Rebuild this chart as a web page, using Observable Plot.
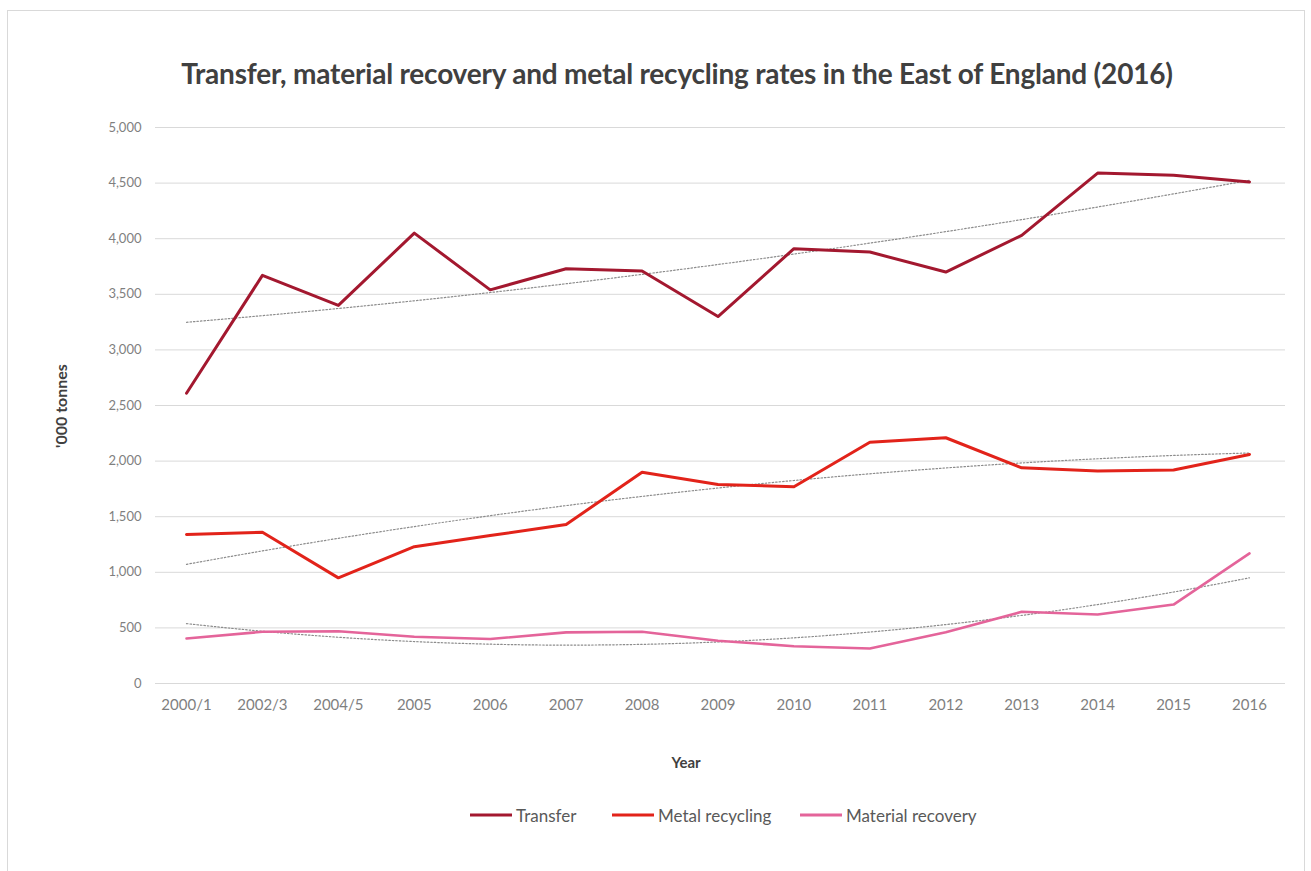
<!DOCTYPE html>
<html>
<head>
<meta charset="utf-8">
<script src="https://cdn.jsdelivr.net/npm/d3@7"></script>
<script src="https://cdn.jsdelivr.net/npm/@observablehq/plot@0.6"></script>
<style>
  html, body { margin: 0; padding: 0; background: #fff; }
  #wrap { position: relative; width: 1311px; height: 871px; font-family: Lato, "Open Sans", sans-serif; }
  #frame { position: absolute; left: 7px; top: 10px; width: 1298px; height: 870px; border: 1px solid #d9d9d9; box-sizing: border-box; }
  #title { position: absolute; left: 0; width: 1354px; top: 73px; transform: translateY(-50%); text-align: center; font-weight: bold; font-size: 28px; color: #404040; letter-spacing: -0.2px; }
  #ylabel { position: absolute; left: 60px; top: 406px; transform: translate(-50%, -50%) rotate(-90deg); font-weight: bold; font-size: 16px; color: #404040; white-space: nowrap; }
  #xlabel { position: absolute; left: 686px; top: 762px; transform: translate(-50%, -50%); font-weight: bold; font-size: 15px; color: #404040; }
  .item { position: absolute; top: 815px; transform: translateY(-50%); display: flex; align-items: center; font-size: 17px; color: #595959; white-space: nowrap; }
  .sw { display: inline-block; width: 42px; height: 3px; margin-right: 4px; }
  #chart { position: absolute; left: 0; top: 0; }
</style>
</head>
<body>
<div id="wrap">
  <div id="frame"></div>
  <div id="chart"></div>
  <div id="title">Transfer, material recovery and metal recycling rates in the East of England (2016)</div>
  <div id="ylabel">'000 tonnes</div>
  <div id="xlabel">Year</div>
  <div id="legend"></div>
</div>
<script>
const years = ["2000/1","2002/3","2004/5","2005","2006","2007","2008","2009","2010","2011","2012","2013","2014","2015","2016"];
const transfer = [2610, 3670, 3400, 4050, 3540, 3730, 3710, 3300, 3910, 3880, 3700, 4030, 4590, 4570, 4510];
const metalRecycling = [1340, 1360, 950, 1230, 1330, 1430, 1900, 1790, 1770, 2170, 2210, 1940, 1910, 1920, 2060];
const materialRecovery = [405, 465, 470, 420, 400, 460, 465, 385, 335, 315, 460, 645, 620, 710, 1170];
const seriesNames = ["Transfer", "Metal recycling", "Material recovery"];
const seriesColors = ["#a3182f", "#e2231a", "#e4649a"];
const seriesWidths = [3, 3, 2.6];
const yTicks = [0, 500, 1000, 1500, 2000, 2500, 3000, 3500, 4000, 4500, 5000];

const seriesValues = [transfer, metalRecycling, materialRecovery];

// Excel-style order-2 polynomial trendline (least squares) computed from the data
function quadFit(vals) {
  let s = [0,0,0,0,0], t = [0,0,0];
  vals.forEach((v, i) => {
    const x = i + 1;
    for (let k = 0; k < 5; k++) s[k] += Math.pow(x, k);
    for (let k = 0; k < 3; k++) t[k] += v * Math.pow(x, k);
  });
  const A = [[s[0], s[1], s[2], t[0]], [s[1], s[2], s[3], t[1]], [s[2], s[3], s[4], t[2]]];
  for (let i = 0; i < 3; i++) {
    for (let j = i + 1; j < 3; j++) {
      const f = A[j][i] / A[i][i];
      for (let k = i; k < 4; k++) A[j][k] -= f * A[i][k];
    }
  }
  const c = [0,0,0];
  for (let i = 2; i >= 0; i--) {
    let sum = A[i][3];
    for (let k = i + 1; k < 3; k++) sum -= A[i][k] * c[k];
    c[i] = sum / A[i][i];
  }
  return vals.map((_, i) => { const x = i + 1; return c[0] + c[1]*x + c[2]*x*x; });
}

const rows = [];
const trendRows = [];
seriesNames.forEach((name, si) => {
  const tr = quadFit(seriesValues[si]);
  years.forEach((yr, i) => {
    rows.push({ year: yr, value: seriesValues[si][i], series: name });
    trendRows.push({ year: yr, value: tr[i], series: name });
  });
});

const plot = Plot.plot({
  width: 1311,
  height: 871,
  marginLeft: 155,
  marginRight: 26,
  marginTop: 127,
  marginBottom: 188,
  style: { fontFamily: "Lato, 'Open Sans', sans-serif", background: "transparent" },
  x: { type: "point", domain: years, range: [186, 1249], padding: 0, round: false, label: null },
  y: { domain: [0, 5000], range: [683, 127], label: null },
  marks: [
    Plot.ruleY(yTicks, { y: d => d, stroke: "#d9d9d9", strokeWidth: 1 }),
    Plot.axisY({ ticks: yTicks, tickSize: 0, tickPadding: 14, tickFormat: d3.format(","), fontSize: 13, fill: "#7f7f7f", label: null }),
    Plot.axisX({ tickSize: 0, tickPadding: 16, fontSize: 15, fill: "#7f7f7f", label: null }),
    Plot.line(trendRows, { x: "year", y: "value", z: "series", stroke: "#8c8c8c", strokeWidth: 1.2, strokeDasharray: "1.5,2", curve: "monotone-x" }),
    ...seriesNames.map((name, si) =>
      Plot.line(rows.filter(r => r.series === name), { x: "year", y: "value", stroke: seriesColors[si], strokeWidth: seriesWidths[si], strokeLinejoin: "round" })
    )
  ]
});
document.getElementById("chart").appendChild(plot);

const legend = document.getElementById("legend");
const legendLeft = [470, 612, 800];
seriesNames.forEach((name, si) => {
  const it = document.createElement("div");
  it.className = "item";
  it.style.left = legendLeft[si] + "px";
  const sw = document.createElement("span");
  sw.className = "sw";
  sw.style.background = seriesColors[si];
  it.appendChild(sw);
  it.appendChild(document.createTextNode(name));
  legend.appendChild(it);
});
</script>
</body>
</html>
